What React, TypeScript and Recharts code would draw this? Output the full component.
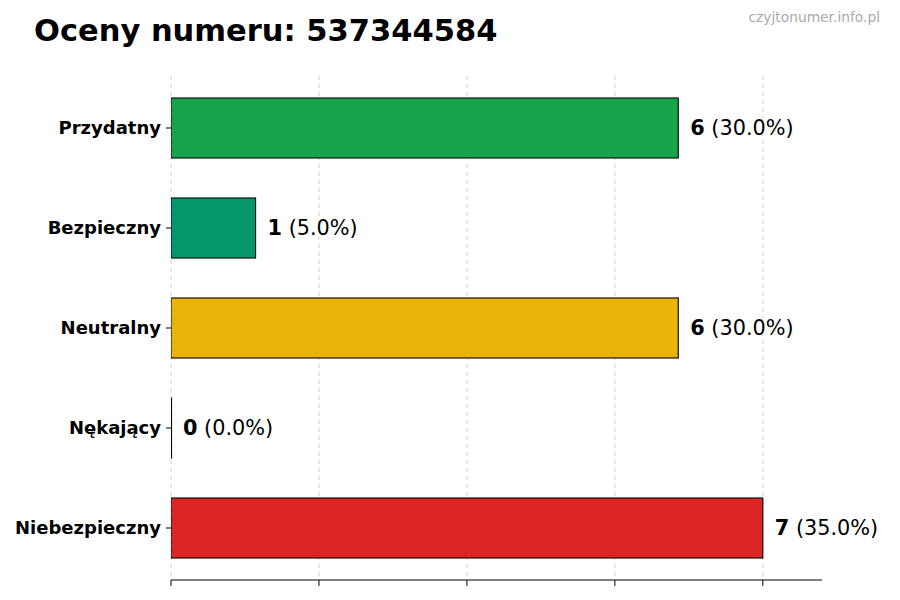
import React from 'react';
import { BarChart, Bar, XAxis, YAxis, CartesianGrid, Cell, LabelList } from 'recharts';

const categories = ['Przydatny', 'Bezpieczny', 'Neutralny', 'Nękający', 'Niebezpieczny'];
const counts = [6, 1, 6, 0, 7];
const colors = ['#16a34a', '#059669', '#eab308', '#999999', '#dc2626'];
const xTicks = [0, 1.75, 3.5, 5.25, 7];
const xMax = 7.7;

const total = counts.reduce((a, b) => a + b, 0);
const data = categories.map((name, i) => ({ name, value: counts[i] }));

const FONT = '"DejaVu Sans", Verdana, sans-serif';

const BarShape = (props: any) => {
  const { x, y, width, height, fill } = props;
  return (
    <rect
      x={x}
      y={y}
      width={Math.max(width, 0.5)}
      height={height}
      fill={fill}
      stroke="#111"
      strokeWidth={1.2}
    />
  );
};

const ValueLabel = (props: any) => {
  const { x, y, width, height, value } = props;
  const pct = total ? ((value / total) * 100).toFixed(1) : '0.0';
  return (
    <text
      x={x + width + 12}
      y={y + height / 2}
      dominantBaseline="central"
      fontSize={20.8}
      fontFamily={FONT}
      fill="#000"
    >
      <tspan fontWeight="bold">{value}</tspan>
      <tspan> ({pct}%)</tspan>
    </text>
  );
};

// grid lines only at the tick values (not at the domain end)
const gridX = ({ offset }: any) =>
  xTicks.map((t) => offset.left + (t / xMax) * offset.width);

export default function App() {
  return (
    <div style={{ position: 'absolute', left: 0, top: 0, width: 900, height: 600, background: '#fff', fontFamily: FONT }}>
      <div style={{ position: 'absolute', left: 34, top: 13, fontSize: 30.5, fontWeight: 'bold', color: '#000' }}>
        Oceny numeru: 537344584
      </div>
      <div style={{ position: 'absolute', right: 20, top: 9, fontSize: 13.8, color: '#aaaaaa' }}>
        czyjtonumer.info.pl
      </div>
      <BarChart
        width={900}
        height={600}
        data={data}
        layout="vertical"
        margin={{ top: 76, right: 78, bottom: 0, left: 11 }}
        barCategoryGap={0}
      >
        <CartesianGrid
          horizontal={false}
          vertical
          strokeDasharray="4 4"
          stroke="#d0d0d0"
          verticalCoordinatesGenerator={gridX}
        />
        <XAxis
          type="number"
          domain={[0, xMax]}
          ticks={xTicks}
          tickFormatter={() => ''}
          axisLine={{ stroke: '#000', strokeWidth: 1 }}
          tickLine={{ stroke: '#000' }}
          tickSize={6}
          height={20}
          allowDataOverflow
        />
        <YAxis
          type="category"
          dataKey="name"
          width={160}
          axisLine={false}
          tickLine={{ stroke: '#000' }}
          tickSize={5}
          tickMargin={5}
          padding={{ top: 2, bottom: 2 }}
          tick={{ fill: '#000', fontSize: 18, fontWeight: 'bold', fontFamily: FONT }}
        />
        <Bar dataKey="value" barSize={60} isAnimationActive={false} shape={<BarShape />}>
          {data.map((d, i) => (
            <Cell key={d.name} fill={colors[i]} />
          ))}
          <LabelList dataKey="value" content={<ValueLabel />} />
        </Bar>
      </BarChart>
    </div>
  );
}
